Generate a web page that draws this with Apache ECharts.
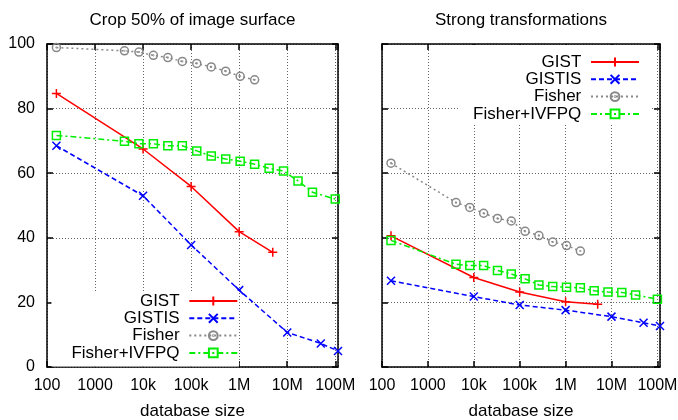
<!DOCTYPE html>
<html><head><meta charset="utf-8">
<script src="https://cdn.jsdelivr.net/npm/echarts@6/dist/echarts.min.js"></script>
<style>html,body{margin:0;padding:0;background:#fff}#c{width:678px;height:420px}</style>
</head><body><div id="c"></div>
<script>
// ---------- data ----------
const seriesNames = ['GIST', 'GISTIS', 'Fisher', 'Fisher+IVFPQ'];
const panelTitles = ['Crop 50% of image surface', 'Strong transformations'];
const xAxisTitle = 'database size';
const xTickValues = [100, 1000, 1e4, 1e5, 1e6, 1e7, 1e8];
const xTickLabels = ['100', '1000', '10k', '100k', '1M', '10M', '100M'];
const yTickValues = [0, 20, 40, 60, 80, 100];

const gistSizes   = [157, 10000, 100000, 1000000, 5000000];
const gistisSizes = [157, 10000, 100000, 1000000, 10000000, 50000000, 114000000];
const fisherSizes = [157, 4096, 8192, 16384, 32768, 65536, 131072, 262144, 524288, 1048576, 2097152];
const ivfpqSizes  = [157, 4096, 8192, 16384, 32768, 65536, 131072, 262144, 524288, 1048576, 2097152,
                     4194304, 8388608, 16777216, 33554432, 100000000];

// Crop 50% of image surface
const cropGist   = [84.7, 67.5, 55.9, 41.9, 35.5];
const cropGistis = [68.5, 53.0, 37.8, 23.8, 10.7, 7.3, 4.95];
const cropFisher = [98.9, 97.9, 97.5, 96.5, 95.8, 94.6, 94.0, 92.9, 91.6, 90.0, 88.9];
const cropIvfpq  = [71.7, 69.9, 69.1, 69.1, 68.5, 68.5, 66.9, 65.3, 64.4, 63.7, 62.8, 61.5, 60.7, 57.6, 54.1, 52.0];

// Strong transformations
const strongGist   = [40.6, 27.7, 23.2, 20.2, 19.4];
const strongGistis = [26.7, 21.8, 19.2, 17.6, 15.6, 13.7, 12.7];
const strongFisher = [63.1, 50.9, 49.4, 47.6, 46.0, 45.2, 42.0, 40.7, 38.7, 37.6, 35.9];
const strongIvfpq  = [39.2, 31.8, 31.4, 31.4, 29.9, 28.8, 27.3, 25.4, 24.9, 24.7, 24.5, 23.6, 23.2, 23.1, 22.3, 21.0];

// ---------- styling ----------
const FONT = 'Liberation Sans, Arial, Helvetica, sans-serif';
const FS = 16;     // tick labels
const FS2 = 17;    // titles, legend, axis name
const X_MIN = 100, X_MAX = 114000000;

const styles = {
  'GIST':         { color: '#ff0000', dash: 'solid',      symbol: 'path://M0,5L10,5M5,0L5,10', size: 9 },
  'GISTIS':       { color: '#0000ff', dash: [5, 3],       symbol: 'path://M0,0L10,10M10,0L0,10', size: 8 },
  'Fisher':       { color: '#888888', dash: [2, 3],       symbol: 'path://M0,5A5,5 0 1,1 10,5A5,5 0 1,1 0,5ZM4.6,5A0.4,0.4 0 1,1 5.4,5A0.4,0.4 0 1,1 4.6,5Z', size: 8 },
  'Fisher+IVFPQ': { color: '#00ee00', dash: [6, 3, 2, 3], symbol: 'path://M0,0L10,0L10,10L0,10Z', size: 8 }
};

function zip(xs, ys) { return xs.map((x, i) => [x, ys[i]]); }

function mkSeries(name, sizes, vals, panel) {
  const s = styles[name];
  return {
    type: 'line', name: name,
    xAxisIndex: panel, yAxisIndex: panel,
    data: zip(sizes, vals),
    symbol: s.symbol, symbolSize: s.size,
    showSymbol: true,
    lineStyle: { color: s.color, width: 1.5, type: s.dash },
    itemStyle: { color: 'rgba(0,0,0,0)', borderColor: s.color, borderWidth: 1.5 },
    emphasis: { disabled: true },
    animation: false, z: 3
  };
}

function xLabel(v) {
  const lv = Math.log10(v);
  for (let i = 0; i < xTickValues.length; i++) {
    if (Math.abs(lv - Math.log10(xTickValues[i])) < 1e-6) return xTickLabels[i];
  }
  return '';
}

const gridLine = { show: true, lineStyle: { color: '#666', width: 1, type: [1, 2] } };
const axisLine = { show: true, onZero: false, lineStyle: { color: '#000', width: 1.5 } };
const tick = { show: true, inside: true, length: 6, lineStyle: { color: '#000', width: 1.5 } };

const grids = [
  { left: 47, top: 44, width: 291, height: 323, outerBoundsMode: 'none', containLabel: false },
  { left: 382, top: 44, width: 278, height: 323, outerBoundsMode: 'none', containLabel: false }
];

const xAxes = [];
const yAxes = [];
[0, 1].forEach(p => {
  xAxes.push({
    type: 'log', logBase: 10, gridIndex: p, position: 'bottom', min: X_MIN, max: X_MAX,
    axisLine: axisLine, axisTick: tick, splitLine: gridLine, minorTick: { show: false },
    axisLabel: { formatter: xLabel, margin: 11, fontSize: FS, fontFamily: FONT, color: '#000', showMaxLabel: false, hideOverlap: false },
    name: xAxisTitle, nameLocation: 'middle', nameGap: 36,
    nameTextStyle: { fontSize: FS2, fontFamily: FONT, color: '#000' }
  });
  yAxes.push({
    type: 'value', gridIndex: p, position: 'left', min: yTickValues[0], max: yTickValues[yTickValues.length - 1], interval: 20,
    axisLine: axisLine, axisTick: tick, splitLine: gridLine,
    axisLabel: { show: p === 0, margin: 12, fontSize: FS, fontFamily: FONT, color: '#000' }
  });
});
[0, 1].forEach(p => {
  xAxes.push({
    type: 'log', logBase: 10, gridIndex: p, position: 'top', min: X_MIN, max: X_MAX,
    axisLine: axisLine, axisTick: tick, splitLine: { show: false }, axisLabel: { show: false }
  });
  yAxes.push({
    type: 'value', gridIndex: p, position: 'right', min: 0, max: 100, interval: 20,
    axisLine: axisLine, axisTick: tick, splitLine: { show: false }, axisLabel: { show: false }
  });
});

const series = [
  mkSeries('GIST', gistSizes, cropGist, 0),
  mkSeries('GISTIS', gistisSizes, cropGistis, 0),
  mkSeries('Fisher', fisherSizes, cropFisher, 0),
  mkSeries('Fisher+IVFPQ', ivfpqSizes, cropIvfpq, 0),
  mkSeries('GIST', gistSizes, strongGist, 1),
  mkSeries('GISTIS', gistisSizes, strongGistis, 1),
  mkSeries('Fisher', fisherSizes, strongFisher, 1),
  mkSeries('Fisher+IVFPQ', ivfpqSizes, strongIvfpq, 1)
];

const legendCommon = {
  orient: 'vertical', align: 'right', itemWidth: 48, itemHeight: 11, itemGap: 0,
  backgroundColor: '#fff', selectedMode: false, data: seriesNames,
  formatter: '{name} ',
  textStyle: { fontSize: FS2, fontFamily: FONT, color: '#000', lineHeight: 17.3 }
};

const option = {
  animation: false,
  backgroundColor: '#fff',
  title: [
    { text: panelTitles[0], left: 192.5, top: 12, textAlign: 'center', padding: 0,
      textStyle: { fontSize: FS2, fontWeight: 'normal', fontFamily: FONT, color: '#000' } },
    { text: panelTitles[1], left: 521, top: 12, textAlign: 'center', padding: 0,
      textStyle: { fontSize: FS2, fontWeight: 'normal', fontFamily: FONT, color: '#000' } }
  ],
  legend: [
    Object.assign({}, legendCommon, { right: 439, top: 291, padding: [1.35, 0.7, 5, 20] }),
    Object.assign({}, legendCommon, { right: 28, top: 45, padding: [8.35, 10, 1.5, 13] })
  ],
  grid: grids,
  xAxis: xAxes,
  yAxis: yAxes,
  series: series
};

const chart = echarts.init(document.getElementById('c'), null, { renderer: 'canvas' });
chart.setOption(option);
</script>
</body></html>
